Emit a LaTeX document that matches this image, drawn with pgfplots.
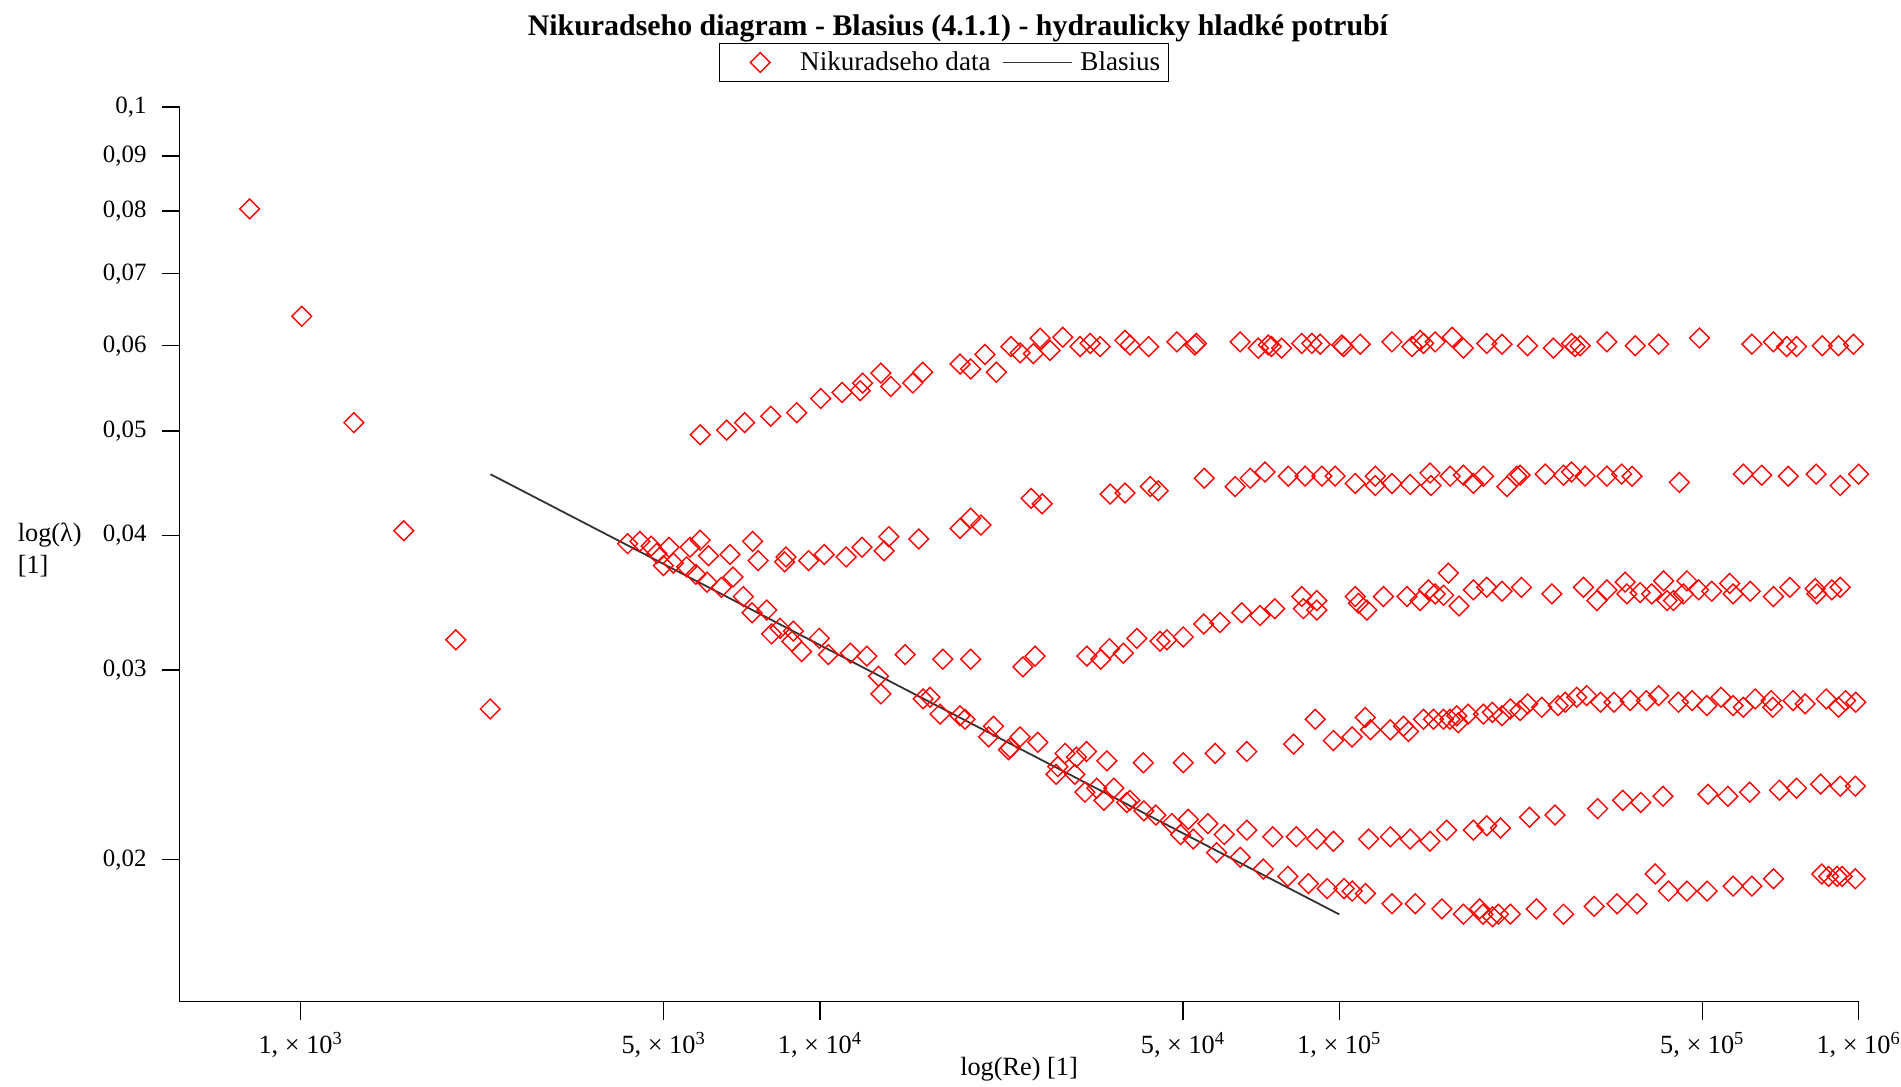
\documentclass[border=0pt]{standalone}
\usepackage{fontspec}
\setmainfont{Liberation Serif}
\usepackage{pgfplots}
\usepackage{pgfplotstable}
\pgfplotsset{compat=1.18}

% Nikuradse's smooth and sand-roughened pipe measurements: Re, friction factor lambda
\pgfplotstableread{
Re lambda
798 0.0804
1005 0.0639
1266 0.0509
1580 0.0404
1990 0.0320
2317 0.0276
5880 0.0496
6610 0.0501
7160 0.0509
8040 0.0516
9020 0.0520
10030 0.0536
11030 0.0543
11950 0.0545
12080 0.0554
13100 0.0566
13690 0.0550
15090 0.0554
15770 0.0567
18610 0.0577
19510 0.0571
20780 0.0589
21860 0.0567
23320 0.0599
24290 0.0591
25760 0.0590
26540 0.0610
27740 0.0594
29350 0.0611
31680 0.0599
33140 0.0603
34630 0.0599
38670 0.0607
39530 0.0601
42930 0.0599
48670 0.0605
52700 0.0601
53080 0.0603
64420 0.0605
69820 0.0597
72970 0.0601
74040 0.0599
77450 0.0597
84650 0.0603
88530 0.0603
91860 0.0602
101100 0.0601
101900 0.0599
109700 0.0602
126300 0.0605
138000 0.0599
143100 0.0607
145300 0.0603
153000 0.0605
165000 0.0611
173400 0.0597
192300 0.0603
205700 0.0602
230400 0.0600
258300 0.0597
280000 0.0603
284500 0.0599
290900 0.0600
327600 0.0605
371400 0.0600
412000 0.0602
493700 0.0610
623000 0.0602
685400 0.0605
726900 0.0599
759400 0.0599
851000 0.0600
914500 0.0600
977400 0.0602
4262 0.0393
4500 0.0395
4730 0.0391
5120 0.0390
5620 0.0390
5880 0.0396
6100 0.0383
6710 0.0384
7420 0.0395
7600 0.0379
8600 0.0382
8550 0.0378
9510 0.0379
10190 0.0384
11230 0.0382
12050 0.0390
13290 0.0387
13570 0.0399
15500 0.0397
18610 0.0406
19510 0.0415
20410 0.0409
25500 0.0433
26780 0.0428
36210 0.0437
38670 0.0438
43250 0.0444
44810 0.0440
54950 0.0452
63030 0.0444
67350 0.0452
71930 0.0458
79760 0.0454
85930 0.0454
92560 0.0454
98160 0.0454
107300 0.0447
117300 0.0454
117300 0.0445
126300 0.0447
136900 0.0446
149500 0.0457
150200 0.0445
163500 0.0454
173400 0.0455
181200 0.0447
189500 0.0454
210300 0.0444
219600 0.0454
222900 0.0455
249200 0.0456
270200 0.0455
280000 0.0458
297400 0.0454
327600 0.0454
349800 0.0456
366100 0.0454
451500 0.0448
600000 0.0456
650800 0.0455
732000 0.0454
828300 0.0456
921500 0.0445
1000000 0.0456
14590 0.0310
17240 0.0307
19510 0.0307
24590 0.0302
25950 0.0309
32650 0.0309
34730 0.0307
36100 0.0314
38380 0.0311
40750 0.0321
45150 0.0319
46560 0.0320
50060 0.0322
54810 0.0331
58920 0.0332
64890 0.0339
70350 0.0337
75100 0.0342
84650 0.0351
85270 0.0342
90500 0.0348
90500 0.0341
107300 0.0351
108900 0.0346
113000 0.0341
121600 0.0351
135000 0.0351
143100 0.0348
148400 0.0356
153000 0.0353
158800 0.0352
162200 0.0369
170000 0.0344
181200 0.0356
192300 0.0358
205700 0.0355
224200 0.0358
256600 0.0353
295200 0.0358
313300 0.0348
327600 0.0356
355200 0.0362
357900 0.0353
379500 0.0354
399600 0.0353
421300 0.0363
427600 0.0348
440000 0.0348
459900 0.0353
467100 0.0363
491900 0.0356
521200 0.0355
564600 0.0361
573300 0.0353
618300 0.0355
685400 0.0351
737300 0.0358
824600 0.0357
830800 0.0353
888000 0.0356
921500 0.0358
26270 0.0257
29640 0.0251
31180 0.0249
32600 0.0252
35680 0.0247
41940 0.0246
50070 0.0246
57650 0.0251
66370 0.0252
81670 0.0256
89900 0.0270
97410 0.0258
105800 0.0260
112200 0.0271
114800 0.0264
125400 0.0264
132900 0.0266
135900 0.0263
145300 0.0270
151800 0.0270
158700 0.0270
163400 0.0270
168300 0.0272
169400 0.0268
177000 0.0273
189400 0.0273
197200 0.0274
205700 0.0272
213500 0.0276
222900 0.0275
230500 0.0279
245300 0.0277
263900 0.0278
272300 0.0280
286600 0.0283
299500 0.0284
318300 0.0280
338000 0.0280
363200 0.0281
390300 0.0281
412000 0.0284
449700 0.0280
477900 0.0281
510000 0.0278
543100 0.0283
573300 0.0278
599700 0.0277
632300 0.0282
678600 0.0281
683500 0.0277
747800 0.0281
789000 0.0279
866200 0.0282
914500 0.0277
943700 0.0281
987000 0.0280
66370 0.0213
74470 0.0210
82640 0.0210
90500 0.0209
97410 0.0208
113900 0.0209
125400 0.0210
136900 0.0209
149500 0.0208
161000 0.0213
181200 0.0213
192300 0.0215
204300 0.0214
232400 0.0219
260200 0.0220
314400 0.0223
351400 0.0227
380700 0.0226
420000 0.0229
512800 0.0230
560000 0.0229
616800 0.0231
704000 0.0232
759400 0.0233
844800 0.0235
921500 0.0234
985400 0.0234
71390 0.0196
79600 0.0193
87180 0.0190
94780 0.0188
102100 0.0188
105900 0.0187
112300 0.0186
126300 0.0182
140000 0.0182
157600 0.0180
173400 0.0178
186300 0.0180
189100 0.0178
197200 0.0177
202500 0.0178
213500 0.0178
239500 0.0180
270200 0.0178
309600 0.0181
342700 0.0182
374200 0.0182
405700 0.0194
430400 0.0187
467100 0.0187
511000 0.0187
573300 0.0189
623000 0.0189
685400 0.0192
849300 0.0194
875200 0.0193
908700 0.0193
929300 0.0193
985400 0.0192
4850 0.0385
4995 0.0375
5220 0.0377
5535 0.0374
5770 0.0368
6060 0.0362
6460 0.0358
6800 0.0366
7120 0.0351
7400 0.0339
7900 0.0341
8070 0.0324
8380 0.0328
8890 0.0326
8830 0.0319
9220 0.0312
9970 0.0321
10380 0.0310
11440 0.0311
12310 0.0309
12960 0.0296
13100 0.0285
15800 0.0282
16290 0.0283
17030 0.0273
18610 0.0272
19020 0.0270
21120 0.0260
21580 0.0266
23070 0.0253
23240 0.0254
24290 0.0260
28480 0.0240
28700 0.0244
30960 0.0240
32370 0.0231
34120 0.0233
35200 0.0227
36800 0.0233
38960 0.0226
39530 0.0227
42040 0.0222
44330 0.0220
47580 0.0216
49470 0.0211
51200 0.0218
52340 0.0209
55830 0.0216
60040 0.0211
58030 0.0203
64450 0.0201
}\nikuradse

% Blasius law lambda = 0.3164 Re^(-1/4), evaluated at a few Reynolds numbers
\pgfplotstableread{
Re lambda
2320 0.04559
10000 0.03164
50000 0.02116
100000 0.01779
}\blasius

\newcommand\tickfont{\fontsize{12.5}{14}\selectfont}
\newcommand\xtickfont{\fontsize{13.2}{15}\selectfont}
\newcommand\labelfont{\fontsize{13.2}{15.8}\selectfont}
\newcommand\legendfont{\fontsize{13.6}{16}\selectfont}

% legend pictures: a single diamond with room around it, and a plain line
\pgfplotsset{
  data legend/.style={legend image code/.code={%
    \path[draw=none, fill=none] (0bp,0bp) -- (36.2bp,0bp);
    \draw[##1] plot coordinates {(18.2bp,0bp)};}},
  blasius legend/.style={legend image code/.code={%
    \draw[##1] (0bp,0bp) -- (34.5bp,0bp);
    \path[draw=none, fill=none] (34.5bp,0bp) -- (36.5bp,0bp);}},
}

\begin{document}
\begin{tikzpicture}
\useasboundingbox (-89.75bp,-42.3bp) rectangle (860.75bp,500.75bp);
\begin{axis}[
  at={(0,0)}, anchor=south west,
  scale only axis, width=839.55bp, height=447.35bp,
  xmode=log, ymode=log,
  xmin=584.5, xmax=1e6, ymin=0.014766, ymax=0.1,
  axis lines=left,
  axis line style={-, line width=0.8bp, black},
  clip=false,
  tick align=outside,
  major tick length=9bp,
  tick style={line width=0.7bp, black},
  xtick={1000,5000,10000,50000,100000,500000,1000000},
  xticklabels={{1, × 10\textsuperscript{3}},{5, × 10\textsuperscript{3}},{1, × 10\textsuperscript{4}},{5, × 10\textsuperscript{4}},{1, × 10\textsuperscript{5}},{5, × 10\textsuperscript{5}},{1, × 10\textsuperscript{6}}},
  ytick={0.02,0.03,0.04,0.05,0.06,0.07,0.08,0.09,0.1},
  yticklabels={{0,02},{0,03},{0,04},{0,05},{0,06},{0,07},{0,08},{0,09},{0,1}},
  minor xtick={}, minor ytick={},
  xticklabel style={font=\xtickfont, yshift=-3bp},
  yticklabel style={font=\tickfont, xshift=-4bp},
  xlabel={log(Re) [1]},
  xlabel style={at={(axis description cs:0.5,-0.0756)}, anchor=center, font=\labelfont},
  every axis y label/.style={at={(axis description cs:-0.1005,0.5045)}, anchor=west, align=left, font=\labelfont},
  ylabel={log(λ)\\{}[1]},
  legend style={at={(axis description cs:0.4553,1.0495)}, anchor=center, legend columns=2,
    draw=black, line width=0.6bp, font=\legendfont, inner sep=2bp,
    /tikz/every even column/.append style={column sep=4bp}},
]
\addplot[only marks, red, mark=square, mark size=3.5bp,
  mark options={rotate=45, draw=red, line width=0.7bp, fill=none}, data legend]
  table[x=Re, y=lambda] {\nikuradse};
\addlegendentry{Nikuradseho data}
\addplot[black!80, line width=0.9bp, no marks, blasius legend]
  table[x=Re, y=lambda] {\blasius};
\addlegendentry{Blasius}
% chart title
\node[anchor=center, font=\bfseries\fontsize{15}{18}\selectfont]
  at (axis description cs:0.4636,1.0875)
  {Nikuradseho diagram - Blasius (4.1.1) - hydraulicky hladké potrubí};
\end{axis}
\end{tikzpicture}
\end{document}
